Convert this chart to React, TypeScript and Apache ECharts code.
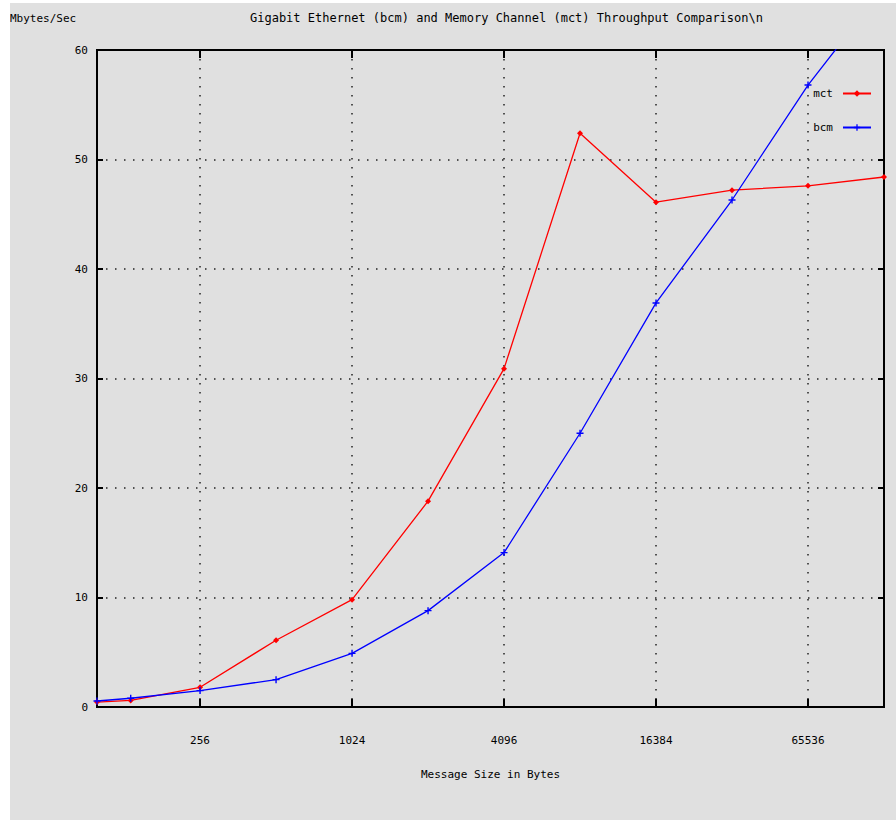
import React, { useEffect, useRef } from "react";
import * as echarts from "echarts";

const messageSizes = [100, 136, 256, 512, 1024, 2048, 4096, 8192, 16384, 32768, 65536, 131072];
const mctValues = [0.45, 0.6, 1.8, 6.1, 9.8, 18.8, 30.9, 52.4, 46.1, 47.2, 47.6, 48.4];
const bcmValues = [0.55, 0.8, 1.5, 2.5, 4.9, 8.8, 14.1, 25.0, 36.9, 46.3, 56.8, 65.7];
const xTickSizes = [256, 1024, 4096, 16384, 65536];
const yMin = 0;
const yMax = 60;
const yStep = 10;

const FONT = "'DejaVu Sans Mono', monospace";
const TEXT_COLOR = "#000";

export default function App() {
  const ref = useRef<HTMLDivElement>(null);

  useEffect(() => {
    if (!ref.current) return;
    const chart = echarts.init(ref.current, null, { renderer: "svg" });
    const xMin = Math.log2(messageSizes[0]);
    const xMax = Math.log2(messageSizes[messageSizes.length - 1]);
    const xTicks = xTickSizes.map((s) => Math.log2(s));
    const toPairs = (vals: number[]) => messageSizes.map((s, i) => [Math.log2(s), vals[i]]);
    const splitStyle = { color: "#222", width: 1.5, type: [1.5, 7.5] as any };

    chart.setOption({
      animation: false,
      backgroundColor: "#e0e0e0",
      textStyle: { fontFamily: FONT },
      title: [
        {
          text: "Gigabit Ethernet (bcm) and Memory Channel (mct) Throughput Comparison\\n",
          left: 240,
          top: 8,
          padding: 0,
          textStyle: { fontFamily: FONT, fontSize: 12, fontWeight: "normal", color: TEXT_COLOR, lineHeight: 14 },
        },
        {
          text: "Mbytes/Sec",
          left: 0,
          top: 8,
          padding: 0,
          textStyle: { fontFamily: FONT, fontSize: 11, fontWeight: "normal", color: TEXT_COLOR, lineHeight: 14 },
        },
      ],
      legend: {
        orient: "vertical",
        right: 19,
        top: 80,
        align: "right",
        itemWidth: 28,
        itemHeight: 8,
        itemGap: 23,
        textStyle: { fontFamily: FONT, fontSize: 11, color: TEXT_COLOR, padding: [0, 5, 0, 0] },
        data: ["mct", "bcm"],
      },
      grid: {
        left: 87,
        top: 47,
        right: 12,
        bottom: 113,
        show: true,
        borderColor: "#000",
        borderWidth: 2,
        backgroundColor: "transparent",
        containLabel: false,
      },
      xAxis: [
        {
          type: "value",
          position: "bottom",
          min: xMin,
          max: xMax,
          name: "Message Size in Bytes",
          nameLocation: "middle",
          nameGap: 62,
          nameTextStyle: { fontFamily: FONT, fontSize: 11, color: TEXT_COLOR },
          axisLine: { show: true, onZero: false, lineStyle: { color: "#000", width: 2 } },
          axisTick: { show: true, inside: true, length: 8, customValues: xTicks, lineStyle: { color: "#000", width: 2 } },
          axisLabel: {
            show: true,
            customValues: xTicks,
            margin: 28,
            fontFamily: FONT,
            fontSize: 11,
            color: TEXT_COLOR,
            formatter: (v: number) => String(Math.round(Math.pow(2, v))),
          },
          splitLine: { show: true, lineStyle: splitStyle },
        },
        {
          type: "value",
          position: "top",
          min: xMin,
          max: xMax,
          axisLine: { show: true, onZero: false, lineStyle: { color: "#000", width: 2 } },
          axisTick: { show: true, inside: true, length: 8, customValues: xTicks, lineStyle: { color: "#000", width: 2 } },
          axisLabel: { show: false },
          splitLine: { show: false },
        },
      ],
      yAxis: [
        {
          type: "value",
          position: "left",
          min: yMin,
          max: yMax,
          interval: yStep,
          axisLine: { show: true, onZero: false, lineStyle: { color: "#000", width: 2 } },
          axisTick: { show: true, inside: true, length: 6, lineStyle: { color: "#000", width: 2 } },
          axisLabel: { margin: 9, fontFamily: FONT, fontSize: 11, color: TEXT_COLOR },
          splitLine: { show: true, lineStyle: splitStyle },
        },
        {
          type: "value",
          position: "right",
          min: yMin,
          max: yMax,
          interval: yStep,
          axisLine: { show: true, onZero: false, lineStyle: { color: "#000", width: 2 } },
          axisTick: { show: true, inside: true, length: 6, lineStyle: { color: "#000", width: 2 } },
          axisLabel: { show: false },
          splitLine: { show: false },
        },
      ],
      series: [
        {
          name: "mct",
          type: "line",
          xAxisIndex: 0,
          yAxisIndex: 0,
          data: toPairs(mctValues),
          symbol: "diamond",
          symbolSize: 6,
          showSymbol: true,
          clip: true,
          color: "#ff0000",
          lineStyle: { color: "#ff0000", width: 1.3 },
          itemStyle: { color: "#ff0000" },
        },
        {
          name: "bcm",
          type: "line",
          xAxisIndex: 0,
          yAxisIndex: 0,
          data: toPairs(bcmValues),
          symbol: "path://M4,0H6V4H10V6H6V10H4V6H0V4H4Z",
          symbolSize: 7,
          showSymbol: true,
          clip: true,
          color: "#0000ff",
          lineStyle: { color: "#0000ff", width: 1.3 },
          itemStyle: { color: "#0000ff" },
        },
      ],
    });
    return () => chart.dispose();
  }, []);

  return (
    <div style={{ position: "absolute", left: 0, top: 0, width: 896, height: 820, background: "#fff" }}>
      <div ref={ref} style={{ position: "absolute", left: 10, top: 3, width: 886, height: 817 }} />
    </div>
  );
}
